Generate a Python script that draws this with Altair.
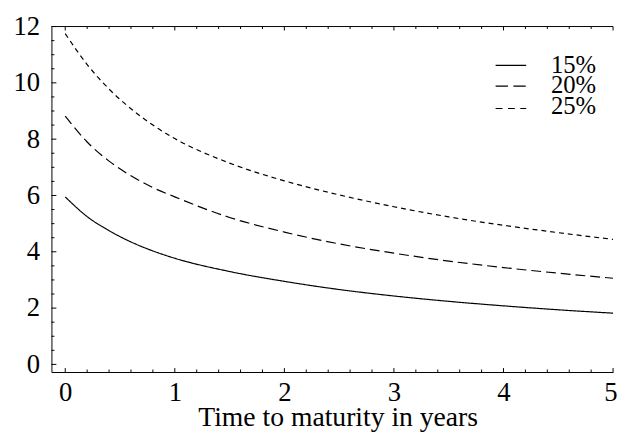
import altair as alt
import pandas as pd

# Data
t_vals = [0, 0.2, 0.4, 0.6, 0.8, 1.0, 1.5, 2.0, 2.5, 3.0, 3.5, 4.0, 4.5, 5.0]
vol15 = [5.95, 5.25, 4.75, 4.35, 4.03, 3.77, 3.30, 2.95, 2.66, 2.43, 2.24, 2.08, 1.94, 1.82]
vol20 = [8.82, 7.90, 7.22, 6.70, 6.28, 5.95, 5.22, 4.70, 4.28, 3.95, 3.67, 3.44, 3.24, 3.06]
vol25 = [11.75, 10.65, 9.78, 9.08, 8.50, 8.02, 7.15, 6.52, 6.02, 5.60, 5.24, 4.94, 4.68, 4.44]
series = ["15%", "20%", "25%"]

x_major = [0, 1, 2, 3, 4, 5]
x_minor = [0.2, 0.4, 0.6, 0.8, 1.2, 1.4, 1.6, 1.8, 2.2, 2.4, 2.6, 2.8,
           3.2, 3.4, 3.6, 3.8, 4.2, 4.4, 4.6, 4.8]
y_major = [0, 2, 4, 6, 8, 10, 12]
y_minor = [0.5, 1, 1.5, 2.5, 3, 3.5, 4.5, 5, 5.5, 6.5, 7, 7.5, 8.5, 9, 9.5, 10.5, 11, 11.5]

rows = []
for name, vals in zip(series, [vol15, vol20, vol25]):
    for t, v in zip(t_vals, vals):
        rows.append({"t": t, "v": v, "s": name})
df = pd.DataFrame(rows)

W, H = 569, 350
FONT = "'Liberation Serif', 'Times New Roman', Times, serif"
xscale = alt.Scale(domain=[-0.126, 5.0], nice=False, zero=False)
yscale = alt.Scale(domain=[-0.27, 12.0], nice=False, zero=False)
dash_scale = alt.Scale(domain=series, range=[[1, 0], [10, 5], [5, 4]])

x_axis = alt.Axis(values=x_major, format="d", ticks=False, tickSize=0, grid=False,
                  domainColor="black", domainWidth=1,
                  labelFont=FONT, labelFontSize=27, labelColor="black",
                  labelBaseline="alphabetic", labelPadding=29,
                  labelFlush=True, labelFlushOffset=4,
                  title="Time to maturity in years", titleFont=FONT,
                  titleFontSize=28, titleFontWeight="normal", titleColor="black",
                  titleX=290, titleY=54, titleAlign="center", titleBaseline="alphabetic")
y_axis = alt.Axis(values=y_major, format="d", ticks=False, tickSize=0, grid=False,
                  domainColor="black", domainWidth=1,
                  labelFont=FONT, labelFontSize=27, labelColor="black",
                  labelPadding=12, labelFlush=False, title=None)

lines = alt.Chart(df).mark_line(color="black", strokeWidth=1.2, clip=True,
                                interpolate="monotone").encode(
    x=alt.X("t:Q", scale=xscale, axis=x_axis),
    y=alt.Y("v:Q", scale=yscale, axis=y_axis),
    strokeDash=alt.StrokeDash("s:N", scale=dash_scale, legend=None),
    detail="s:N",
)

xt_major = pd.DataFrame({"t": x_major})
xt_minor = pd.DataFrame({"t": x_minor})
yt_major = pd.DataFrame({"v": y_major})
yt_minor = pd.DataFrame({"v": y_minor})

def xticks(data, length):
    bottom = alt.Chart(data).mark_rule(color="black", strokeWidth=1).encode(
        x=alt.X("t:Q", scale=xscale, axis=x_axis), y=alt.value(H), y2=alt.value(H - length))
    top = alt.Chart(data).mark_rule(color="black", strokeWidth=1).encode(
        x=alt.X("t:Q", scale=xscale, axis=x_axis), y=alt.value(0), y2=alt.value(length))
    return bottom + top

def yticks(data, length):
    return alt.Chart(data).mark_rule(color="black", strokeWidth=1).encode(
        y=alt.Y("v:Q", scale=yscale, axis=y_axis), x=alt.value(0), x2=alt.value(length))

top_line = alt.Chart(pd.DataFrame({"v": [12.0]})).mark_rule(color="black", strokeWidth=1).encode(
    y=alt.Y("v:Q", scale=yscale, axis=y_axis), x=alt.value(0), x2=alt.value(W))

# Legend (drawn as marks so the rows can sit as tightly as in the reference)
LEG_SYM_X0, LEG_SYM_X1, LEG_TEXT_X = 450, 481, 506
leg_line_y = [39.3, 60.3, 83.0]
leg_text_y = [38.8, 59.5, 80.5]
leg_dash = [[1, 0], [12.5, 5.5], [7, 5.5]]
legend_layers = []
for s, ly, ty, d in zip(series, leg_line_y, leg_text_y, leg_dash):
    src = pd.DataFrame({"s": [s]})
    legend_layers.append(
        alt.Chart(src).mark_rule(color="black", strokeWidth=1.2, strokeDash=d).encode(
            x=alt.value(LEG_SYM_X0), x2=alt.value(LEG_SYM_X1), y=alt.value(ly)))
    legend_layers.append(
        alt.Chart(src).mark_text(font=FONT, fontSize=25, color="black",
                                 align="left", baseline="middle").encode(
            text="s:N", x=alt.value(LEG_TEXT_X), y=alt.value(ty)))

chart = alt.layer(
    lines,
    xticks(xt_major, 4), xticks(xt_minor, 2.5),
    yticks(yt_major, 5), yticks(yt_minor, 3),
    top_line,
    *legend_layers,
).properties(
    width=W, height=H,
    autosize=alt.AutoSizeParams(type="none"),
    padding={"left": 44, "top": 16, "right": 5, "bottom": 59},
    background="white",
).configure_view(stroke=None)

chart.save("out.html", embed_options={"renderer": "svg", "actions": False})
